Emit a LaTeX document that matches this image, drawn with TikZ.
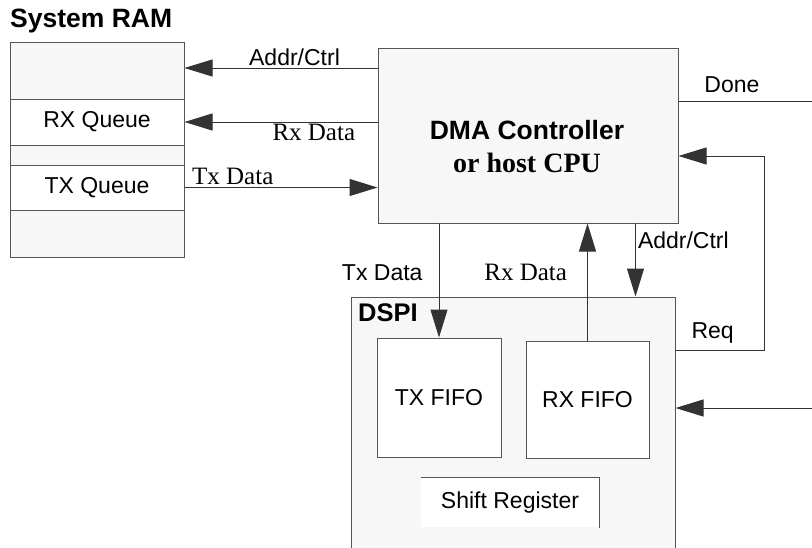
\documentclass[tikz,border=0pt]{standalone}
\usepackage{fontspec}
\setmainfont{Liberation Serif}
\setsansfont{Liberation Sans}
\usetikzlibrary{positioning, arrows.meta}
\definecolor{boxfill}{HTML}{F7F7F7}
\definecolor{edge}{HTML}{555555}

\begin{document}
\begin{tikzpicture}[
    x=1pt, y=-1pt,
    box/.style={rectangle, draw=edge, line width=1pt, fill=boxfill, inner sep=0pt},
    slot/.style={rectangle, draw=edge, line width=1pt, fill=white, inner sep=0pt, font=\sffamily\fontsize{23}{27}\selectfont},
    arrow/.style={-{Triangle[length=28pt, width=17pt]}, line width=1pt, draw=black!80},
    line/.style={line width=1pt, draw=black!80},
    sflbl/.style={font=\sffamily\fontsize{23}{27}\selectfont, inner sep=2pt},
    rmlbl/.style={font=\rmfamily\fontsize{25}{29}\selectfont, inner sep=2pt},
    title/.style={font=\sffamily\bfseries\fontsize{26.5}{30}\selectfont, inner sep=0pt}
]
    \clip (0,0) rectangle (812,547);

    % System RAM
    \node[title, anchor=west] (ramlbl) at (10,21) {System RAM};
    \node[box, minimum width=174pt, minimum height=215pt] (ram) at (97,149.5) {};
    \node[slot, minimum width=174pt, minimum height=46pt] (rxq) at (97,122) {RX Queue};
    \node[slot, minimum width=174pt, minimum height=45pt] (txq) at (97,187.5) {TX Queue};

    % DMA controller
    \node[box, minimum width=300pt, minimum height=175pt] (dma) at (528,135.5) {};
    \node[align=center, inner sep=0pt, font=\fontsize{28}{33}\selectfont] (dmatxt) at (527,147)
        {{\sffamily\bfseries\fontsize{26.5}{33}\selectfont DMA Controller}\\
         {\rmfamily\bfseries\fontsize{28}{33}\selectfont or host CPU}};

    % DSPI block
    \node[box, minimum width=324pt, minimum height=263pt] (dspi) at (513,428.5) {};
    \node[title, font=\sffamily\bfseries\fontsize{25.5}{30}\selectfont, anchor=west] (dspilbl) at (358,313) {DSPI};
    \node[slot, minimum width=124pt, minimum height=119pt] (txf) at (439,397.5) {TX FIFO};
    \node[slot, minimum width=123pt, minimum height=117pt] (rxf) at (587.5,399.5) {RX FIFO};
    \node[slot, draw=none, minimum width=178pt, minimum height=49pt] (shreg) at (510,502.5) {Shift Register};
    \draw[edge, line width=1pt] (shreg.north west) -- (shreg.north east) -- (shreg.south east);

    % free ends on the right
    \coordinate (doneout) at (812,101);
    \coordinate (reqturn) at (764,350);
    \coordinate (extin) at (812,408);

    % RAM side
    \draw[arrow] (dma.west |- 0,68) -- node[sflbl, above, pos=0.43] {Addr/Ctrl} (ram.east |- 0,68);
    \draw[arrow] (dma.west |- rxq) -- node[rmlbl, below, pos=0.33] {Rx Data} (rxq.east);
    \draw[arrow] (txq.east) -- node[rmlbl, above, pos=0.25] {Tx Data} (txq.east -| dma.west);

    % DMA <-> DSPI
    \draw[arrow] (dma.south -| txf) -- node[sflbl, left=14pt, pos=0.43] {Tx Data} (txf.north);
    \draw[arrow] (rxf.north) -- node[rmlbl, left=18pt, pos=0.58] {Rx Data} (rxf.north |- dma.south);
    \draw[arrow] ([xshift=-43pt]dma.south east) -- node[sflbl, right, pos=0.23] {Addr/Ctrl} ([xshift=-43pt]dma.south east |- dspi.north);

    % right side signals
    \draw[line] (dma.east |- doneout) -- node[sflbl, above, pos=0.4, yshift=6pt] {Done} (doneout);
    \draw[arrow] (dspi.east |- reqturn) -- node[sflbl, above, pos=0.42, yshift=4pt] {Req} (reqturn) |- (dma.east |- 0,156);
    \draw[arrow] (extin) -- (extin -| dspi.east);
\end{tikzpicture}
\end{document}
